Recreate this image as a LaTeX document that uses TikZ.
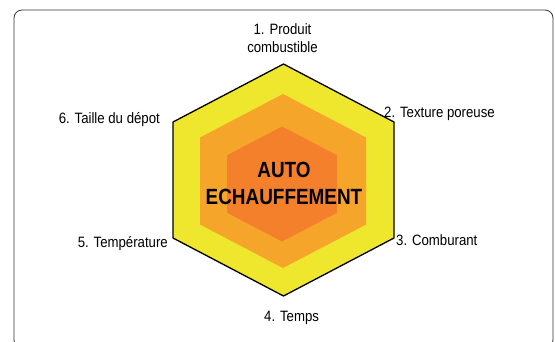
\documentclass[tikz,border=0pt]{standalone}
\usepackage{fontspec}
\setmainfont{Liberation Sans}
\newfontfamily\labelfont[FakeStretch=0.88]{Liberation Sans}
\newfontfamily\titlefont[FakeStretch=0.86]{Liberation Sans}
\definecolor{hexyellow}{HTML}{EFE62E}
\definecolor{hexorange}{HTML}{F6A52B}
\definecolor{hexred}{HTML}{F4802C}
% hexagon path: centre x, centre y, half width, radius
\newcommand{\hexapath}[4]{(#1,#2-#4) -- (#1+#3,#2-#4/2) -- (#1+#3,#2+#4/2) -- (#1,#2+#4) -- (#1-#3,#2+#4/2) -- (#1-#3,#2-#4/2) -- cycle}
\tikzset{
	factor/.style={font=\labelfont\fontsize{15}{18}\selectfont, inner sep=0pt},
}
\begin{document}
\begin{tikzpicture}[x=1pt, y=-1pt]
				  \useasboundingbox (0,0) rectangle (555,341);
				  \clip (0,0) rectangle (555,341);
				  \draw[black!80, line width=0.8pt, rounded corners=8pt] (14,10) rectangle (553,348);
				  \fill[hexyellow] \hexapath{283.5}{180}{110.5}{116};
				  \fill[hexorange] \hexapath{283}{181}{83}{87};
				  \fill[hexred] \hexapath{282}{184}{55}{57.5};
				  \draw[line width=1.3pt, line join=miter] \hexapath{283.5}{180}{110.5}{116};
				  \node[font=\titlefont\bfseries\fontsize{22}{26.7}\selectfont, align=center, anchor=base, inner sep=0pt] (centre) at (284,204.5) {AUTO\\ECHAUFFEMENT};
				  \node[factor, align=center, anchor=base] (f1) at (282.5,52.3) {1. Produit\\combustible};
				  \node[factor, anchor=base west] (f2) at (384,117.7) {2. Texture poreuse};
				  \node[factor, anchor=base west] (f3) at (396,245) {3. Comburant};
				  \node[factor, anchor=base west] (f4) at (264,321.7) {4. Temps};
				  \node[factor, anchor=base east] (f5) at (168,247.7) {5. Température};
				  \node[factor, anchor=base east] (f6) at (160,123.3) {6. Taille du dépot};
				\end{tikzpicture}
\end{document}
